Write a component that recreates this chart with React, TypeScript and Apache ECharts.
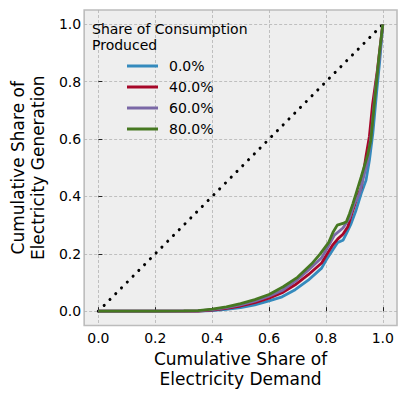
import React, { useEffect, useRef } from "react";
import * as echarts from "echarts";

const tickValues = [0, 0.2, 0.4, 0.6, 0.8, 1.0];
const seriesNames = ["0.0%", "40.0%", "60.0%", "80.0%"];
const seriesColors = ["#348ABD", "#A60628", "#7A68A6", "#467821"];

const blue0: number[][] = [
  [0, 0], [0.2, 0], [0.35, 0], [0.4, 0.002], [0.45, 0.006], [0.5, 0.012], [0.55, 0.022],
  [0.6, 0.036], [0.646, 0.05], [0.692, 0.075], [0.738, 0.108], [0.785, 0.15], [0.802, 0.18],
  [0.825, 0.215], [0.842, 0.24], [0.86, 0.247], [0.872, 0.27], [0.889, 0.306], [0.906, 0.352],
  [0.924, 0.41], [0.941, 0.456], [0.953, 0.526], [0.965, 0.62], [0.98, 0.78], [0.99, 0.88], [1, 1],
];
const red40: number[][] = [
  [0, 0], [0.2, 0], [0.35, 0], [0.4, 0.004], [0.45, 0.01], [0.5, 0.018], [0.55, 0.03],
  [0.6, 0.045], [0.646, 0.064], [0.692, 0.092], [0.738, 0.127], [0.785, 0.168], [0.802, 0.196],
  [0.825, 0.232], [0.842, 0.252], [0.86, 0.268], [0.877, 0.294], [0.895, 0.352], [0.912, 0.404],
  [0.924, 0.43], [0.941, 0.54], [0.953, 0.61], [0.964, 0.72], [0.981, 0.84], [1, 1],
];
const purple60: number[][] = [
  [0, 0], [0.2, 0], [0.35, 0.001], [0.4, 0.005], [0.45, 0.012], [0.5, 0.022], [0.55, 0.035],
  [0.6, 0.052], [0.646, 0.072], [0.692, 0.104], [0.738, 0.143], [0.785, 0.186], [0.802, 0.215],
  [0.83, 0.265], [0.86, 0.29], [0.883, 0.325], [0.9, 0.375], [0.918, 0.41], [0.947, 0.526],
  [0.96, 0.62], [0.975, 0.78], [0.99, 0.9], [1, 1],
];
const green80: number[][] = [
  [0, 0], [0.1, 0], [0.2, 0], [0.3, 0.001], [0.35, 0.002], [0.4, 0.007], [0.45, 0.015],
  [0.5, 0.026], [0.55, 0.04], [0.6, 0.058], [0.65, 0.085], [0.7, 0.118], [0.75, 0.165],
  [0.78, 0.2], [0.81, 0.24], [0.825, 0.275], [0.84, 0.3], [0.86, 0.306], [0.872, 0.312],
  [0.883, 0.34], [0.895, 0.375], [0.906, 0.41], [0.924, 0.468], [0.947, 0.545], [0.958, 0.596],
  [0.97, 0.72], [0.987, 0.89], [1, 1],
];
const equality: number[][] = [[0, 0], [1, 1]];

const seriesData = [blue0, red40, purple60, green80];

const FONT = "DejaVu Sans";

export default function App() {
  const ref = useRef<HTMLDivElement>(null);
  useEffect(() => {
    if (!ref.current) return;
    document.body.style.margin = "0";
    const chart = echarts.init(ref.current, null, { renderer: "svg" });
    const axisCommon = {
      type: "value" as const,
      min: -0.05,
      max: 1.05,
      axisLine: { show: false },
      axisTick: {
        show: true,
        inside: true,
        length: 4,
        customValues: tickValues,
        lineStyle: { color: "#222", width: 1 },
      },
      splitLine: {
        show: true,
        lineStyle: { color: "#b2b2b2", width: 0.8, type: [3, 2] },
      },
      nameLocation: "middle" as const,
      nameTextStyle: { fontFamily: FONT, fontSize: 17, color: "#000", lineHeight: 20 },
    };
    chart.setOption({
      animation: false,
      backgroundColor: "#ffffff",
      textStyle: { fontFamily: FONT },
      grid: {
        left: 80,
        top: 10,
        width: 317,
        height: 315.5,
        show: true,
        backgroundColor: "#eeeeee",
        borderColor: "#bcbcbc",
        borderWidth: 1.6,
      },
      xAxis: {
        ...axisCommon,
        name: "Cumulative Share of\nElectricity Demand",
        nameGap: 20,
        axisLabel: {
          customValues: tickValues,
          formatter: (v: number) => v.toFixed(1),
          fontFamily: FONT,
          fontSize: 14,
          color: "#000",
          margin: 5,
        },
      },
      yAxis: {
        ...axisCommon,
        name: "Cumulative Share of\nElectricity Generation",
        nameGap: 36,
        nameRotate: 90,
        axisLabel: {
          customValues: tickValues,
          formatter: (v: number) => v.toFixed(1),
          fontFamily: FONT,
          fontSize: 14,
          color: "#000",
          margin: 3,
        },
      },
      legend: {
        data: seriesNames,
        orient: "vertical",
        left: 127,
        top: 59,
        itemWidth: 31,
        itemHeight: 14,
        itemGap: 7,
        padding: 0,
        icon: "path://M0,0 L31,0 L31,3 L0,3 Z",
        textStyle: { fontFamily: FONT, fontSize: 14, color: "#000", padding: [0, 0, 0, 6] },
      },
      graphic: [
        {
          type: "text",
          left: 92,
          top: 21,
          z: 100,
          style: {
            text: "Share of Consumption\nProduced",
            fontFamily: FONT,
            fontSize: 14,
            lineHeight: 16,
            fill: "#000",
          },
        },
      ],
      series: [
        {
          name: "Equality",
          type: "line",
          data: equality,
          symbol: "none",
          silent: true,
          clip: false,
          lineStyle: { color: "#000", width: 3, type: [0.1, 8.1], cap: "round" },
          z: 1,
        },
        ...seriesNames.map((name, i) => ({
          name,
          type: "line",
          data: seriesData[i],
          symbol: "none",
          clip: false,
          color: seriesColors[i],
          lineStyle: { color: seriesColors[i], width: 2.8 },
          z: 2 + i,
        })),
      ],
    });
    return () => chart.dispose();
  }, []);
  return <div ref={ref} style={{ width: 407, height: 396 }} />;
}
